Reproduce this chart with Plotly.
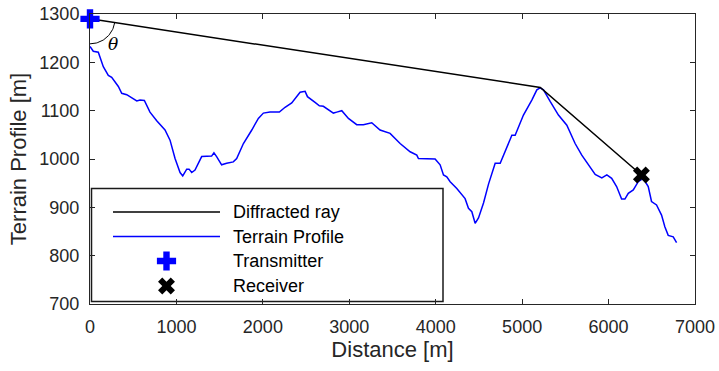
import numpy as np
import plotly.graph_objects as go

# ---------------- data ----------------
terrain_d = [0, 38, 96, 116, 154, 212, 251, 328, 367, 425, 483, 541, 579, 629, 694, 772,
             868, 926, 984, 1042, 1073, 1119, 1146, 1177, 1215, 1292, 1407, 1434, 1465,
             1523, 1581, 1658, 1697, 1775, 1872, 1948, 2006, 2083, 2191, 2257, 2334, 2392,
             2431, 2489, 2516, 2604, 2654, 2700, 2816, 2855, 2913, 2990, 3086, 3163, 3260,
             3356, 3472, 3588, 3704, 3781, 3800, 3993, 4051, 4090, 4128, 4167, 4244, 4340,
             4379, 4418, 4456, 4495, 4553, 4611, 4688, 4746, 4823, 4881, 4919, 5015, 5112,
             5170, 5208, 5247, 5324, 5420, 5517, 5613, 5690, 5767, 5845, 5922, 5980, 6036,
             6093, 6151, 6189, 6228, 6286, 6343, 6401, 6459, 6497, 6555, 6613, 6651, 6690,
             6748, 6787]
terrain_h = [1233, 1223, 1221, 1209, 1191, 1173, 1169, 1150, 1136, 1133, 1127, 1120, 1122, 1121,
             1097, 1079, 1060, 1039, 1001, 972, 965, 979, 979, 972, 977, 1005, 1006, 1013, 1005,
             988, 991, 994, 1001, 1032, 1060, 1084, 1095, 1097, 1097, 1107, 1116, 1129, 1138,
             1140, 1129, 1117, 1110, 1109, 1095, 1097, 1100, 1084, 1071, 1071, 1075, 1060, 1053,
             1032, 1015, 1008, 1001, 1000, 988, 967, 963, 953, 939, 918, 898, 891, 867, 878, 909,
             948, 991, 991, 1025, 1049, 1049, 1091, 1122, 1143, 1147, 1143, 1119, 1091, 1070,
             1032, 1008, 988, 968, 961, 967, 960, 943, 917, 917, 929, 936, 953, 960, 943, 912,
             905, 884, 860, 842, 839, 827]

ray_d = [0, 5210, 6380]
ray_h = [1290, 1148, 967]

tx_d, tx_h = [0], [1290]
rx_d, rx_h = [6380], [967]

x_ticks = [0, 1000, 2000, 3000, 4000, 5000, 6000, 7000]
y_ticks = [700, 800, 900, 1000, 1100, 1200, 1300]
x_range = [0, 7000]
y_range = [700, 1300]

legend_labels = ["Diffracted ray", "Terrain Profile", "Transmitter", "Receiver"]

# ---------------- layout geometry ----------------
W, H = 719, 371
ML, MR, MT, MB = 90, 24, 14, 67
plot_w = W - ML - MR
plot_h = H - MT - MB
px_per_x = plot_w / (x_range[1] - x_range[0])
px_per_y = plot_h / (y_range[1] - y_range[0])

AX = "#262626"
FONT = "Liberation Sans, Arial, sans-serif"
BLUE = "#0000ff"

fig = go.Figure()

fig.add_trace(go.Scatter(x=terrain_d, y=terrain_h, mode="lines", name=legend_labels[1],
                         showlegend=False, line=dict(color=BLUE, width=1.5)))
fig.add_trace(go.Scatter(x=ray_d, y=ray_h, mode="lines", name=legend_labels[0],
                         showlegend=False, line=dict(color="black", width=1.5)))

# theta arc: from straight down to the ray direction, radius in pixels
r_px = 25
ray_ang = np.arctan2((ray_h[1] - ray_h[0]) * px_per_y, (ray_d[1] - ray_d[0]) * px_per_x)
angs = np.linspace(-np.pi / 2, ray_ang, 40)
arc_x = tx_d[0] + r_px * np.cos(angs) / px_per_x
arc_y = tx_h[0] + r_px * np.sin(angs) / px_per_y
fig.add_trace(go.Scatter(x=arc_x, y=arc_y, mode="lines", showlegend=False, hoverinfo="skip",
                         line=dict(color="black", width=1), cliponaxis=False))
mid = (-np.pi / 2 + ray_ang) / 2
lab_r = 36
fig.add_annotation(x=tx_d[0] + lab_r * np.cos(mid) / px_per_x,
                   y=tx_h[0] + lab_r * np.sin(mid) / px_per_y,
                   text="<i>θ</i>", showarrow=False, yshift=2,
                   font=dict(family="DejaVu Serif, Liberation Serif, serif", size=17, color="black"))

fig.add_trace(go.Scatter(x=tx_d, y=tx_h, mode="markers", name=legend_labels[2], cliponaxis=False,
                         showlegend=False, marker=dict(symbol="cross", size=16, color=BLUE)))
fig.add_trace(go.Scatter(x=rx_d, y=rx_h, mode="markers", name=legend_labels[3], cliponaxis=False,
                         showlegend=False, marker=dict(symbol="x", size=15, color="black")))

# ---------------- legend (drawn in pixel space) ----------------
def px2paper_x(px):
    return (px - ML) / plot_w

def px2paper_y(py):
    return (H - MB - py) / plot_h

box = dict(x0=91.5, x1=443, y0=188.5, y1=301.5)
fig.add_shape(type="rect", xref="paper", yref="paper",
              x0=px2paper_x(box["x0"]), x1=px2paper_x(box["x1"]),
              y0=px2paper_y(box["y1"]), y1=px2paper_y(box["y0"]),
              line=dict(color="#1a1a1a", width=1.5), fillcolor="white", layer="below")
row_y = [212, 236.5, 261, 286]
line_x0, line_x1, mark_x, text_x = 113, 220, 166.5, 231
fig.add_shape(type="line", xref="paper", yref="paper",
              x0=px2paper_x(line_x0), x1=px2paper_x(line_x1),
              y0=px2paper_y(row_y[0]), y1=px2paper_y(row_y[0]),
              line=dict(color="black", width=1.5), layer="above")
fig.add_shape(type="line", xref="paper", yref="paper",
              x0=px2paper_x(line_x0), x1=px2paper_x(line_x1),
              y0=px2paper_y(row_y[1]), y1=px2paper_y(row_y[1]),
              line=dict(color=BLUE, width=1.5), layer="above")
for lab, ry in zip(legend_labels, row_y):
    fig.add_annotation(xref="paper", yref="paper", x=px2paper_x(text_x), y=px2paper_y(ry),
                       xanchor="left", yanchor="middle", text=lab, showarrow=False,
                       font=dict(family=FONT, size=18, color="black"))
# legend marker glyphs on an overlay axis pair whose units are pixels
fig.add_trace(go.Scatter(x=[mark_x], y=[row_y[2]], xaxis="x2", yaxis="y2", mode="markers",
                         showlegend=False, hoverinfo="skip", cliponaxis=False,
                         marker=dict(symbol="cross", size=16, color=BLUE)))
fig.add_trace(go.Scatter(x=[mark_x], y=[row_y[3]], xaxis="x2", yaxis="y2", mode="markers",
                         showlegend=False, hoverinfo="skip", cliponaxis=False,
                         marker=dict(symbol="x", size=15, color="black")))

axis_common = dict(showline=True, linecolor=AX, linewidth=1, mirror="ticks", ticks="inside",
                   ticklen=5, tickcolor=AX, tickwidth=1, showgrid=False, zeroline=False,
                   automargin=False, tickfont=dict(family=FONT, size=18, color=AX))

fig.update_xaxes(range=x_range, tickvals=x_ticks, ticktext=[str(v) for v in x_ticks],
                 title=dict(text="Distance [m]", font=dict(family=FONT, size=22, color=AX), standoff=6),
                 ticklabelstandoff=6, **axis_common)
fig.update_yaxes(range=y_range, tickvals=y_ticks, ticktext=[str(v) for v in y_ticks],
                 title=dict(text="Terrain Profile [m]", font=dict(family=FONT, size=22, color=AX), standoff=6),
                 ticklabelstandoff=6, **axis_common)

fig.update_layout(
    width=W, height=H,
    margin=dict(l=ML, r=MR, t=MT, b=MB, pad=0),
    paper_bgcolor="white", plot_bgcolor="white",
    font=dict(family=FONT, color="black"),
    showlegend=False,
    xaxis2=dict(overlaying="x", range=[ML, W - MR], visible=False, fixedrange=True),
    yaxis2=dict(overlaying="y", range=[H - MB, MT], visible=False, fixedrange=True),
)

fig.write_html("out.html")
